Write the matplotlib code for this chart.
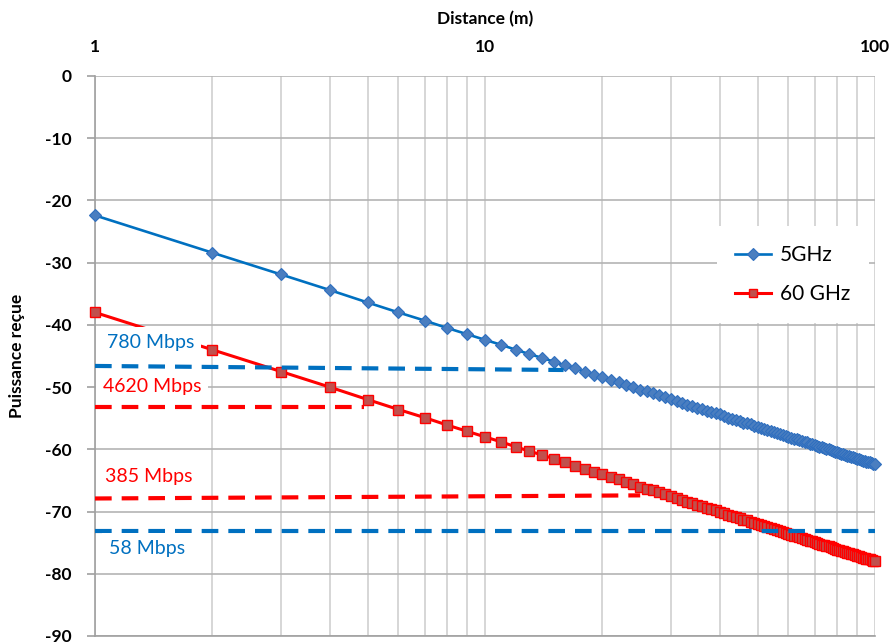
import matplotlib
matplotlib.use("Agg")
import matplotlib.pyplot as plt
from matplotlib.ticker import FixedLocator, NullFormatter, FixedFormatter

plt.rcParams['font.family'] = ['Lato', 'DejaVu Sans']
plt.rcParams['axes.unicode_minus'] = False

# ---------------- data ----------------
distances = list(range(1, 101))

power_5ghz = [
    -22.4, -28.4, -31.9, -34.4, -36.4, -38.0, -39.3, -40.5, -41.5, -42.4,
    -43.2, -44.0, -44.7, -45.3, -45.9, -46.5, -47.0, -47.5, -48.0, -48.4,
    -48.8, -49.2, -49.6, -50.0, -50.4, -50.7, -51.0, -51.3, -51.6, -51.9,
    -52.2, -52.5, -52.8, -53.0, -53.3, -53.5, -53.8, -54.0, -54.2, -54.4,
    -54.7, -54.9, -55.1, -55.3, -55.5, -55.7, -55.8, -56.0, -56.2, -56.4,
    -56.5, -56.7, -56.9, -57.0, -57.2, -57.4, -57.5, -57.7, -57.8, -58.0,
    -58.1, -58.3, -58.4, -58.5, -58.7, -58.8, -58.9, -59.1, -59.2, -59.3,
    -59.4, -59.6, -59.7, -59.8, -59.9, -60.0, -60.1, -60.2, -60.4, -60.5,
    -60.6, -60.7, -60.8, -60.9, -61.0, -61.1, -61.2, -61.3, -61.4, -61.5,
    -61.6, -61.7, -61.8, -61.9, -62.0, -62.0, -62.1, -62.2, -62.3, -62.4,
]

power_60ghz = [
    -38.0, -44.0, -47.5, -50.0, -52.0, -53.6, -54.9, -56.1, -57.1, -58.0,
    -58.8, -59.6, -60.3, -60.9, -61.5, -62.1, -62.6, -63.1, -63.6, -64.0,
    -64.4, -64.8, -65.2, -65.6, -66.0, -66.3, -66.6, -66.9, -67.2, -67.5,
    -67.8, -68.1, -68.4, -68.6, -68.9, -69.1, -69.4, -69.6, -69.8, -70.0,
    -70.3, -70.5, -70.7, -70.9, -71.1, -71.3, -71.4, -71.6, -71.8, -72.0,
    -72.2, -72.3, -72.5, -72.7, -72.8, -73.0, -73.1, -73.3, -73.4, -73.6,
    -73.7, -73.9, -74.0, -74.1, -74.3, -74.4, -74.5, -74.7, -74.8, -74.9,
    -75.0, -75.2, -75.3, -75.4, -75.5, -75.6, -75.7, -75.8, -76.0, -76.1,
    -76.2, -76.3, -76.4, -76.5, -76.6, -76.7, -76.8, -76.9, -77.0, -77.1,
    -77.2, -77.3, -77.4, -77.5, -77.6, -77.6, -77.7, -77.8, -77.9, -78.0,
]

series_names = ["5GHz", "60 GHz"]

# threshold (dashed) lines: label, x start, x end, y start, y end
thr_labels = ["780 Mbps", "4620 Mbps", "385 Mbps", "58 Mbps"]
thr_x0 = [1, 1, 1, 1]
thr_x1 = [15.9, 4.9, 25.0, 100]
thr_y0 = [-46.6, -53.2, -67.9, -73.1]
thr_y1 = [-47.25, -53.2, -67.4, -73.1]
thr_colors = ["#0070C0", "#FF0000", "#FF0000", "#0070C0"]
# label anchor positions
lab_x = [1.39, 1.40, 1.37, 1.36]
lab_y = [-42.9, -49.9, -64.3, -76.0]

x_ticks = [1, 10, 100]
y_ticks = [0, -10, -20, -30, -40, -50, -60, -70, -80, -90]

# ---------------- figure ----------------
fig = plt.figure(figsize=(8.93, 6.42), dpi=100)
ax = fig.add_axes([95/893, 1-636/642, (875-95)/893, (636-76)/642])

ax.set_xscale('log')
ax.set_xlim(1, 100)
ax.set_ylim(-90, 0)

# grid
minor = [m * d for d in (1, 10) for m in range(2, 10)]
for xv in minor + x_ticks:
    ax.axvline(xv, color='#D0D0D0', lw=1.2, zorder=0)
for yv in y_ticks:
    ax.axhline(yv, color='#B4B4B4', lw=1.2, zorder=0)

# series
ax.plot(distances, power_5ghz, color='#0070C0', lw=1.9, marker='D',
        markersize=6.3, markerfacecolor='#4A7EC0', markeredgecolor='#2F6FBF',
        markeredgewidth=0.8, label=series_names[0], zorder=3, clip_on=False)
ax.plot(distances, power_60ghz, color='#FF0000', lw=2.2, marker='s',
        markersize=7, markerfacecolor='#C0504D', markeredgecolor='#FF0000',
        markeredgewidth=1.0, label=series_names[1], zorder=3, clip_on=False)

# threshold lines
for i in range(len(thr_labels)):
    ax.plot([thr_x0[i], thr_x1[i]], [thr_y0[i], thr_y1[i]], color=thr_colors[i],
            lw=3.0, dashes=(4.0, 2.4), solid_capstyle='butt', dash_capstyle='butt',
            zorder=4)
    ax.text(lab_x[i], lab_y[i], thr_labels[i], color=thr_colors[i], fontsize=14,
            ha='center', va='center', zorder=5,
            bbox=dict(facecolor='white', edgecolor='none', pad=5))

# axes styling
for s in ('top', 'right'):
    ax.spines[s].set_visible(False)
ax.spines['left'].set_color('#A0A0A0')
ax.spines['bottom'].set_color('#A0A0A0')
ax.spines['left'].set_linewidth(1.2)
ax.spines['bottom'].set_linewidth(1.2)

ax.xaxis.set_ticks_position('top')
ax.xaxis.set_label_position('top')
ax.xaxis.set_major_locator(FixedLocator(x_ticks))
ax.xaxis.set_major_formatter(FixedFormatter([str(v) for v in x_ticks]))
ax.xaxis.set_minor_locator(FixedLocator(minor))
ax.xaxis.set_minor_formatter(NullFormatter())
ax.tick_params(axis='x', which='both', length=0, pad=15, labelsize=12.5)
ax.set_yticks(y_ticks)
ax.set_yticklabels([str(v) for v in y_ticks])
ax.tick_params(axis='y', length=6, width=1.2, color='#A0A0A0', pad=11, labelsize=12.5)
for lbl in ax.get_xticklabels() + ax.get_yticklabels():
    lbl.set_fontweight('bold')

ax.set_xlabel('Distance (m)', fontsize=12.5, fontweight='bold', labelpad=11)
ax.set_ylabel('Puissance reçue', fontsize=12.5, fontweight='bold', labelpad=14)

leg = ax.legend(loc='upper right', bbox_to_anchor=(1.006, 0.75), fontsize=15,
                frameon=True, framealpha=1, facecolor='white', edgecolor='none',
                fancybox=False, handlelength=1.7, labelspacing=0.9,
                borderpad=0.9, handletextpad=0.45, markerscale=0.9)
leg.set_zorder(10)

fig.savefig('out.png', dpi=100)
